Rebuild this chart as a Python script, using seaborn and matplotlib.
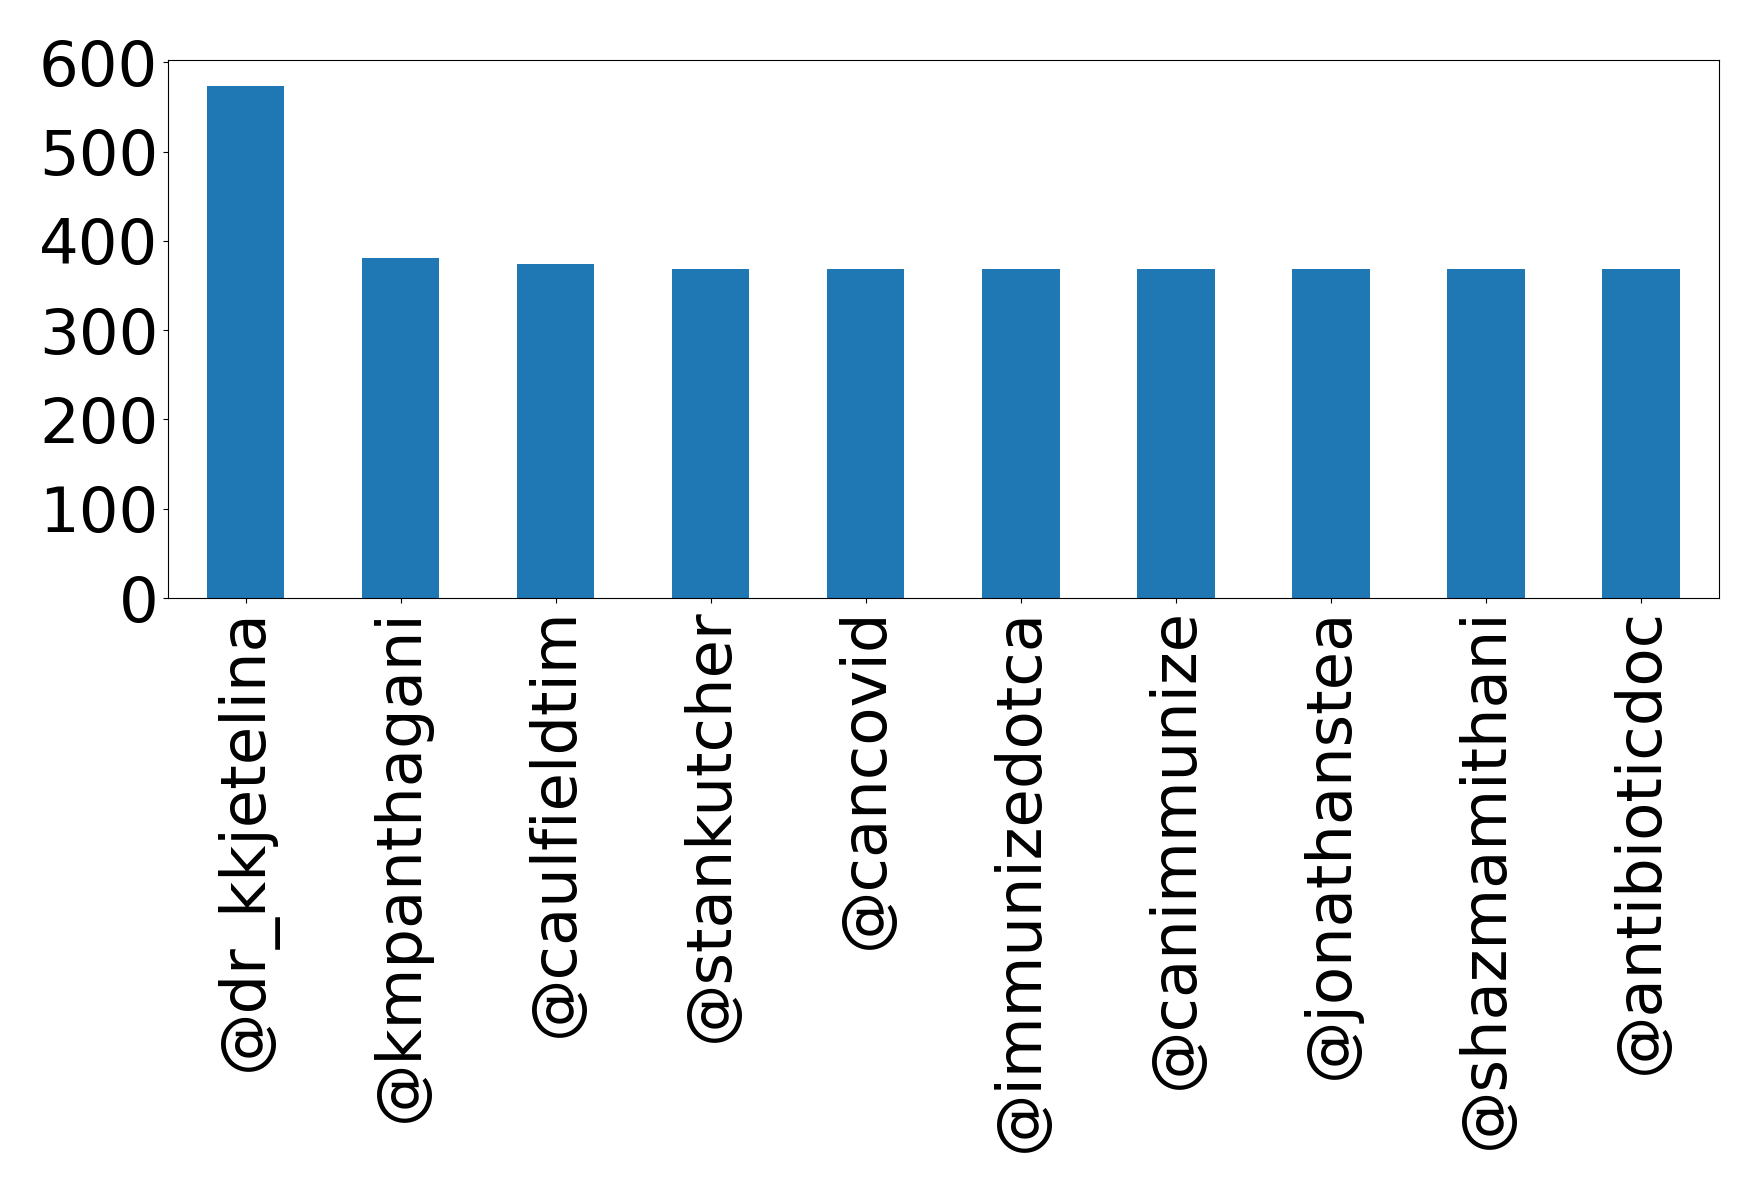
import matplotlib
matplotlib.use('Agg')
import matplotlib.pyplot as plt
import seaborn as sns
import pandas as pd

users = ['@dr_kkjetelina', '@kmpanthagani', '@caulfieldtim', '@stankutcher',
         '@cancovid', '@immunizedotca', '@canimmunize', '@jonathanstea',
         '@shazmamithani', '@antibioticdoc']
counts = [574, 381, 374, 369, 369, 369, 369, 369, 369, 369]
yticks = [0, 100, 200, 300, 400, 500, 600]

df = pd.DataFrame({'user': users, 'count': counts})

fig, ax = plt.subplots(figsize=(17.59, 11.93), dpi=100)
sns.barplot(data=df, x='user', y='count', color='#1f77b4', saturation=1,
            width=0.5, ax=ax)
ax.set_xlim(-0.5, len(users) - 0.5)
ax.set_ylim(0, 603)
ax.set_yticks(yticks)
ax.set_xlabel('')
ax.set_ylabel('')
ax.tick_params(axis='both', labelsize=45)
plt.xticks(rotation=90)
plt.subplots_adjust(left=0.0955, right=0.977, top=0.950, bottom=0.4987)
plt.savefig('out.png', dpi=100)
